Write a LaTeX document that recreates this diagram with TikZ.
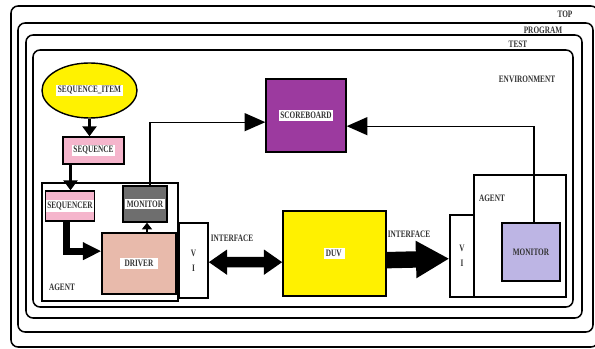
\documentclass[tikz,border=0pt]{standalone}
\usepackage{xcolor}
\usepackage{fontspec}
\setmainfont{Liberation Serif}[FakeStretch=0.74]
\usepackage{tikz}
\usetikzlibrary{shapes.geometric, arrows.meta, positioning}
\definecolor{itemyellow}{HTML}{FFF200}
\definecolor{seqpink}{HTML}{F5B5CC}
\definecolor{scorepurple}{HTML}{9C3A9F}
\definecolor{mongray}{HTML}{6E6E6E}
\definecolor{drvsalmon}{HTML}{E8BAAB}
\definecolor{duvyellow}{HTML}{FFF100}
\definecolor{monlavender}{HTML}{BDB5E4}
\definecolor{labelgray}{HTML}{333333}

\newcommand{\wtag}[1]{{\setlength{\fboxsep}{1.5pt}\colorbox{white}{#1}}}

\begin{document}
\begin{tikzpicture}[
    x=0.03cm, y=-0.03cm,
    frame/.style={draw, line width=1.3pt, rounded corners=6pt},
    unit/.style={
      rectangle, draw, line width=1.2pt,
      inner sep=0pt,
      font=\fontsize{8.4}{9.5}\selectfont\bfseries, text=labelgray
    },
    tag/.style={font=\fontsize{8.4}{9.5}\selectfont\bfseries, text=labelgray, inner sep=1pt},
    fat/.style={line width=3pt, -{Triangle[length=0.3cm, width=0.42cm]}},
    thin/.style={line width=1pt, -{Triangle[length=0.62cm, width=0.54cm]}},
    bus/.style={line width=9pt, {Triangle[length=0.55cm, width=0.72cm]}-{Triangle[length=0.55cm, width=0.72cm]}},
    drive/.style={line width=14pt, -{Triangle[length=1.0cm, width=1.05cm]}}
  ]

    \useasboundingbox (0,0) rectangle (595,349);

    % -- nested frames --------------------------------------------------
    \draw[frame] (11,6)  rectangle (598,347);
    \draw[frame] (18,23) rectangle (593,332);
    \draw[frame] (26,35) rectangle (582,318);
    \draw[frame] (33,50) rectangle (573,307);

    \node[tag] (l_top)  at (565,14) {TOP};
    \node[tag] (l_prog) at (543,30) {PROGRAM};
    \node[tag] (l_test) at (518,44) {TEST};
    \node[tag] (l_env)  at (527,79) {ENVIRONMENT};

    % -- stimulus side ----------------------------------------------------
    \node[unit, ellipse, fill=itemyellow, minimum width=2.85cm, minimum height=1.65cm]
      (item) at (89.5,90.5) {\wtag{SEQUENCE\_ITEM}};
    \node[unit, fill=seqpink, minimum width=1.83cm, minimum height=0.81cm]
      (seq) at (93.5,150.5) {\wtag{SEQUENCE}};

    % -- left agent -------------------------------------------------------
    \node[unit, minimum width=4.08cm, minimum height=3.54cm] (agent_l) at (110,242) {};
    \node[tag] (l_agent_l) at (62,287) {AGENT};
    \node[unit, fill=seqpink, minimum width=1.38cm, minimum height=0.9cm]
      (seqr) at (70,206) {\wtag{SEQUENCER}};
    \node[unit, fill=mongray, minimum width=1.32cm, minimum height=1.08cm]
      (mon_l) at (145,204) {\wtag{MONITOR}};
    \node[unit, fill=drvsalmon, minimum width=2.22cm, minimum height=1.83cm]
      (drv) at (139,263.5) {\wtag{\,\,DRIVER\,\,}};
    \node[unit, fill=white, minimum width=0.87cm, minimum height=2.25cm, align=center]
      (vi_l) at (193.5,260.5) {V\\[3pt]I};

    % -- scoreboard and DUV -----------------------------------------------
    \node[unit, fill=scorepurple, minimum width=2.4cm, minimum height=2.19cm]
      (score) at (306,115.5) {\wtag{SCOREBOARD}};
    \node[unit, fill=duvyellow, minimum width=3.09cm, minimum height=2.55cm]
      (duv) at (334.5,253.5) {\wtag{DUV\,}};

    % -- right agent ------------------------------------------------------
    \node[unit, minimum width=2.76cm, minimum height=3.66cm] (agent_r) at (520,236) {};
    \node[tag] (l_agent_r) at (492,198) {AGENT};
    \node[unit, fill=white, minimum width=0.72cm, minimum height=2.46cm, align=center]
      (vi_r) at (462,256) {V\\[3pt]I};
    \node[unit, fill=monlavender, minimum width=1.74cm, minimum height=1.74cm]
      (mon_r) at (531,252) {MONITOR};

    \node[tag] (l_if_l) at (232,238) {INTERFACE};
    \node[tag] (l_if_r) at (409,234) {INTERFACE};

    % -- connectors -------------------------------------------------------
    \draw[fat] (item.south) -- (item.south |- seq.north);
    \draw[fat] ([xshift=-0.69cm]seq.south) -- ([xshift=-0.69cm]seq.south |- seqr.north);
    \draw[line width=6pt, -{Triangle[length=0.55cm, width=0.5cm]}]
      ([xshift=-0.1cm]seqr.south) |- ([yshift=0.37cm]drv.west);
    \draw[line width=2.5pt, -{Triangle[length=0.2cm, width=0.3cm]}]
      ([xshift=0.24cm]drv.north) -- ([xshift=0.24cm]drv.north |- mon_l.south);
    \draw[thin] ([xshift=0.15cm]mon_l.north) |- ([yshift=-0.2cm]score.west);
    \draw[thin] ([xshift=0.09cm]mon_r.north) |- ([yshift=-0.32cm]score.east);
    \draw[bus] ([yshift=-0.05cm]vi_l.east) -- ([yshift=-0.26cm]duv.west);
    \draw[drive] ([yshift=-0.2cm]duv.east) -- ([yshift=-0.08cm]vi_r.west);

  \end{tikzpicture}
\end{document}
